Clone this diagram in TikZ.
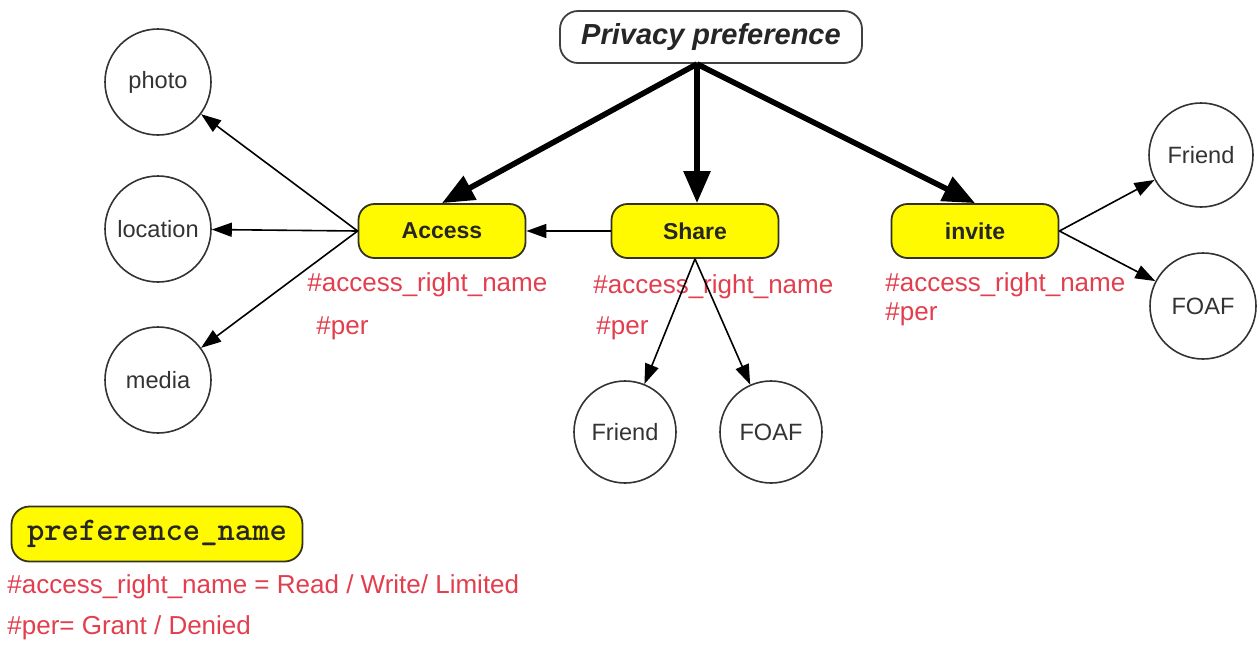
\documentclass[tikz,border=0pt]{standalone}
\usepackage{fontspec}
\setmainfont{Liberation Sans}
\usetikzlibrary{arrows.meta}
\definecolor{boxyellow}{RGB}{255,250,0}
\definecolor{boxline}{RGB}{50,50,30}
\definecolor{labred}{RGB}{226,62,78}
\begin{document}
\begin{tikzpicture}[x=0.5pt,y=-0.5pt,
  pref/.style={draw=boxline, line width=0.9pt, rounded corners=8pt, fill=boxyellow,
    minimum width=83.5pt, minimum height=27pt, inner sep=0pt,
    font=\fontsize{11.5}{13}\selectfont\bfseries, text=black!85},
  circ/.style={circle, draw=black!80, line width=0.8pt, minimum size=53pt, inner sep=0pt,
    font=\fontsize{11.8}{13}\selectfont, text=black!80},
  lab/.style={anchor=west, text=labred, font=\fontsize{13}{15}\selectfont, inner sep=0pt},
  big/.style={line width=2.8pt, -{Triangle[length=16pt,width=13pt]}},
  thinarrow/.style={line width=0.8pt, -{Triangle[length=10pt,width=7pt]}}]

\useasboundingbox (0,0) rectangle (1258,644);

% top node
\node[draw=black!75, line width=0.9pt, rounded corners=9pt, fill=white,
  minimum width=151pt, minimum height=26pt, inner sep=0pt,
  font=\fontsize{14.5}{16}\selectfont\bfseries\itshape, text=black!85] (pp) at (711,37) {Privacy preference};

% yellow boxes
\node[pref] (access) at (442,231) {Access};
\node[pref] (share) at (695,231) {Share};
\node[pref] (invite) at (975,231) {invite};

% circles
\node[circ] (photo) at (158,82) {photo};
\node[circ] (location) at (158,229) {location};
\node[circ] (media) at (158,380) {media};
\node[circ, minimum size=51pt] (sfriend) at (625,432) {Friend};
\node[circ, minimum size=51pt] (sfoaf) at (771,432) {FOAF};
\node[circ, minimum size=52pt] (ifriend) at (1201,155) {Friend};
\node[circ, minimum size=53pt] (ifoaf) at (1203,306) {FOAF};

% red labels
\node[lab] (al1) at (307,285) {\#access\_right\_name};
\node[lab] (al2) at (316,328) {\#per};
\node[lab] (sl1) at (593,287) {\#access\_right\_name};
\node[lab] (sl2) at (596,328) {\#per};
\node[lab] (il1) at (885,285) {\#access\_right\_name};
\node[lab] (il2) at (885,314) {\#per};

% legend
\node[draw=boxline, line width=0.9pt, rounded corners=9pt, fill=boxyellow,
  minimum width=145.5pt, minimum height=27.5pt, inner sep=0pt,
  font=\fontsize{16.5}{18}\selectfont\ttfamily\bfseries, text=black!85] (legend) at (157,534) {preference\_name};
\node[lab] (lg1) at (7,587) {\#access\_right\_name = Read / Write/ Limited};
\node[lab] (lg2) at (7,628) {\#per= Grant / Denied};

% thick arrows
\coordinate (hub) at (697,64);
\draw[big] (hub) -- (access.north);
\draw[big] (hub) -- (hub |- share.north);
\draw[big] (hub) -- (invite.north);

% thin arrows
\draw[thinarrow] (access.west) -- (photo);
\draw[thinarrow] (access.west) -- (location);
\draw[thinarrow] (access.west) -- (media);
\draw[thinarrow] (share.west) -- (access.east);
\draw[thinarrow] (share.south) -- (sfriend);
\draw[thinarrow] (share.south) -- (sfoaf);
\draw[thinarrow] (invite.east) -- (ifriend);
\draw[thinarrow] (invite.east) -- (ifoaf);
\end{tikzpicture}
\end{document}
